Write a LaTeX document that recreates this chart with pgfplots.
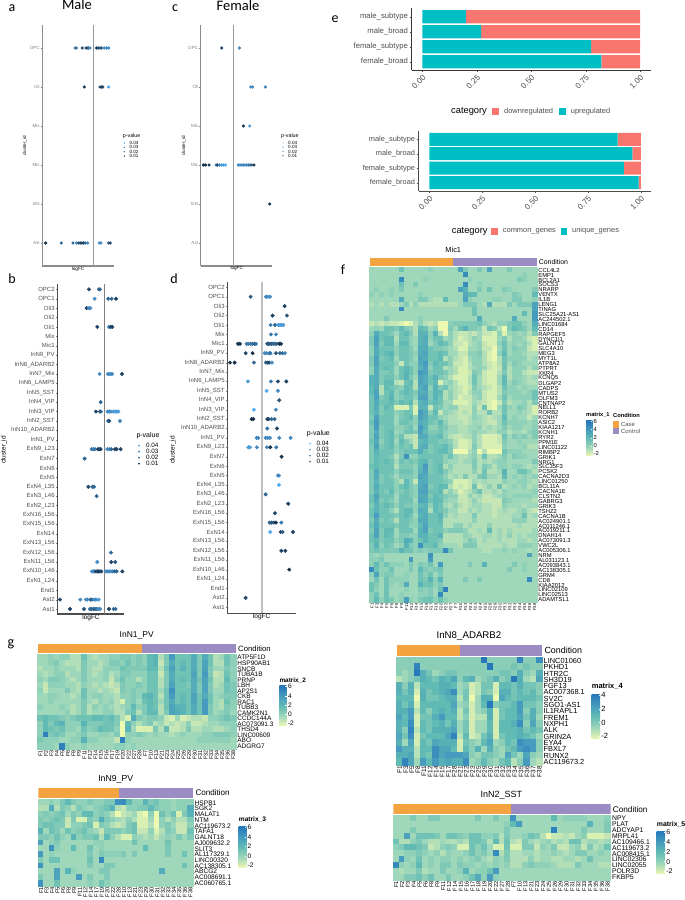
\documentclass[border=0pt]{standalone}
\usepackage{fontspec}
\setmainfont{Liberation Sans}
\newfontfamily\cali{Carlito}
\usepackage{pgfplots}
\usepackage{pgfplotstable}
\pgfplotsset{compat=1.18}

% one unit = one pixel of the 685x900 figure
\newcommand{\fs}[1]{\fontsize{#1pt}{#1pt}\selectfont}
\newcommand{\lab}[4][]{\node[inner sep=0pt,#1] at ({#2pt},{(900-#3)*1pt}) {#4};}
\newcommand{\swatch}[5]{\fill[#5] ({#1pt},{(900-#2)*1pt}) rectangle ({#3pt},{(900-#4)*1pt});}

\definecolor{tickg}{HTML}{4D4D4D}
\definecolor{spa}{HTML}{8C8C8C}
\definecolor{zeroa}{HTML}{9A9A9A}
\definecolor{upc}{HTML}{00BFC4}
\definecolor{downc}{HTML}{F8766D}
\definecolor{casec}{RGB}{243,163,63}
\definecolor{ctrlc}{RGB}{155,140,195}
\definecolor{h0}{RGB}{237,248,177}
\definecolor{h1}{RGB}{158,215,186}
\definecolor{h2}{RGB}{97,187,180}
\definecolor{h3}{RGB}{70,155,190}
\definecolor{h4}{RGB}{38,120,187}
\pgfdeclareverticalshading{heatv}{100bp}{color(0bp)=(h0); color(25bp)=(h0); color(37.5bp)=(h1); color(50bp)=(h2); color(62.5bp)=(h3); color(75bp)=(h4); color(100bp)=(h4)}

\pgfplotsset{
  colormap={pval}{rgb255=(19,43,67) rgb255=(86,177,247)},
  colormap={heat}{rgb255=(237,248,177) rgb255=(158,215,186) rgb255=(97,187,180) rgb255=(70,155,190) rgb255=(38,120,187)},
  pts/.style={scatter,only marks,mark=*,point meta=explicit,
    scatter/use mapped color={draw=mapped color,fill=mapped color}},
  cell/.style={scatter,only marks,mark=square*,point meta=explicit,
    mark options={line width=0pt},
    scatter/use mapped color={draw=mapped color,fill=mapped color}},
  dotax/.style={scale only axis,anchor=south west,axis x line*=bottom,axis y line*=left,
    xtick=\empty,tick align=outside,major tick length=1.5pt,
    tick style={draw=gray},axis line style={-,draw=#1,line width=1.1pt},
    yticklabel style={text=tickg,inner sep=1pt},
    colormap name=pval,point meta min=.003,point meta max=.042},
  barax/.style={scale only axis,anchor=south west,axis x line*=bottom,axis y line*=left,
    xbar stacked,y dir=reverse,ytick={0,1,2,3},
    yticklabels={male\_subtype,male\_broad,female\_subtype,female\_broad},
    xtick={0,.25,.5,.75,1},xticklabels={0.00,0.25,0.50,0.75,1.00},
    tick align=outside,major tick length=2pt,tick style={draw=tickg},
    axis line style={-,draw=#1,line width=.9pt},
    yticklabel style={text=tickg,inner sep=1.5pt},
    xticklabel style={text=tickg,rotate=45,anchor=north east,inner sep=1.5pt}},
  heatax/.style={scale only axis,anchor=south west,enlargelimits=false,y dir=reverse,
    axis line style={draw=none},tick style={draw=none},major tick length=0pt,
    yticklabel pos=right,yticklabel style={inner sep=1.2pt},
    xticklabel style={rotate=90,anchor=east,inner sep=1pt},
    colormap name=heat,point meta min=-4,point meta max=12},
}

% one column of cells per plot; cell values are in half units of the colour scale
\newcommand{\heat}[3]{\pgfplotsinvokeforeach{0,...,#2}{%
  \addplot[cell,mark size=#3pt] table[x expr=##1,y expr=\coordindex,meta index=##1]{#1};}}

% left, bottom, width, height, case columns, control columns, total
\newcommand{\annot}[7]{%
\begin{axis}[scale only axis,anchor=south west,at={(#1pt,#2pt)},width=#3pt,height=#4pt,
  hide axis,xbar stacked,bar width=#4pt,xmin=0,xmax=#7,ymin=-.5,ymax=.5]
\addplot[fill=casec,draw=none] coordinates {(#5,0)};
\addplot[fill=ctrlc,draw=none] coordinates {(#6,0)};
\end{axis}}

% left, bottom, width, height, ymin, ymax, font size, ticks
\newcommand{\cbar}[8]{%
\begin{axis}[scale only axis,anchor=south west,at={(#1pt,#2pt)},width=#3pt,height=#4pt,
  xmin=0,xmax=1,ymin=#5,ymax=#6,xtick=\empty,ytick={#8},axis on top,
  axis line style={draw=none},tick style={draw=white,line width=.4pt},major tick length=1.2pt,
  ytick pos=right,tick align=inside,yticklabel pos=right,
  yticklabel style={font=\fs{#7},inner sep=1.2pt,/pgf/number format/assume math mode=true}]
\shade[shading=heatv] (axis cs:0,#5) rectangle (axis cs:1,#6);
\end{axis}}

% left, bottom, width, height, font size, mark size, opacity
\newcommand{\pleg}[7]{%
\begin{axis}[scale only axis,anchor=south west,at={(#1pt,#2pt)},width=#3pt,height=#4pt,
  hide x axis,axis y line*=right,axis line style={draw=none},tick style={draw=none},
  major tick length=0pt,xmin=-1,xmax=1,ymin=-.5,ymax=3.5,ytick={0,1,2,3},
  yticklabels={0.01,0.02,0.03,0.04},yticklabel style={font=\fs{#5},inner sep=.5pt},
  colormap name=pval,point meta min=.003,point meta max=.042]
\addplot[pts,mark size=#6pt,opacity=#7] coordinates {(0,0) [.01] (0,1) [.02] (0,2) [.03] (0,3) [.04]};
\end{axis}}

\pgfplotstableread{
x y p
-55 5 .03
-51 5 .02
-33 5 .01
-22 5 .01
-18 5 .01
-14 5 .02
-10 5 .03
10 5 .01
15 5 .01
20 5 .01
25 5 .02
33 5 .03
40 5 .03
46 5 .03
-27 4 .005
20 4 .01
24 4 .01
28 4 .01
46 4 .04
-143 0 .005
-96 0 .02
-61 0 .02
-50 0 .03
-44 0 .02
-39 0 .01
-34 0 .01
-29 0 .01
-24 0 .02
-17 0 .03
18 0 .03
23 0 .03
46 0 .02
51 0 .01
}\tabA

\pgfplotstableread{
x y p
-35 5 .01
18 5 .03
52 4 .03
57 4 .03
96 4 .03
30 3 .01
49 3 .035
-90 2 .005
-84 2 .005
-73 2 .005
-52 2 .03
-48 2 .01
-42 2 .03
-36 2 .035
-30 2 .035
-24 2 .04
15 2 .03
20 2 .03
25 2 .03
30 2 .03
35 2 .03
40 2 .03
45 2 .03
50 2 .02
55 2 .02
62 2 .005
109 1 .005
}\tabC

\pgfplotstableread{
x y p
-47 34 .01
-17 34 .015
-14 34 .02
-30 33 .03
11 33 .02
21 33 .02
34 33 .01
-54 32 .01
-47 32 .03
-43 32 .03
-22 30 .01
13 30 .03
18 30 .01
23 30 .01
-15 25 .03
10 25 .03
16 25 .03
22 25 .03
52 25 .01
-12 22 .02
-26 21 .01
-14 21 .01
-11 21 .02
9 21 .03
14 21 .03
19 21 .03
26 21 .035
31 21 .035
36 21 .035
41 21 .035
11 20 .015
14 20 .015
46 20 .03
-39 17 .025
-34 17 .025
-29 17 .025
-20 17 .01
-16 17 .01
-12 17 .01
8 17 .03
14 17 .03
20 17 .02
31 17 .01
36 17 .01
48 17 .01
-60 16 .02
-49 13 .01
-37 13 .02
-32 13 .02
-24 12 .02
19 6 .02
-22 5 .03
20 5 .01
32 5 .015
-38 4 .03
-34 4 .03
-30 4 .03
-26 4 .01
-22 4 .01
-18 4 .01
-14 4 .01
-10 4 .01
4 4 .03
9 4 .03
14 4 .03
19 4 .03
24 4 .03
30 4 .02
36 4 .02
53 4 .01
-134 1 .01
-73 1 .03
-56 1 .03
-52 1 .03
-42 1 .02
-38 1 .02
-31 1 .03
-26 1 .03
-18 1 .035
-104 0 .01
-62 0 .015
-44 0 .02
-39 0 .02
-34 0 .02
-29 0 .02
-24 0 .02
-19 0 .03
-14 0 .03
13 0 .01
27 0 .02
33 0 .02
}\tabB

\pgfplotstableread{
x y p
-34 33 .015
12 33 .03
17 33 .03
24 33 .03
68 32 .01
32 31 .01
75 31 .015
26 30 .025
39 30 .02
49 30 .035
54 30 .035
59 30 .035
64 30 .035
27 29 .025
42 29 .03
-72 28 .005
-66 28 .005
-46 28 .025
-41 28 .025
-34 28 .025
-29 28 .025
-22 28 .01
-18 28 .025
16 28 .015
20 28 .015
24 28 .015
29 28 .015
34 28 .02
39 28 .02
44 28 .02
52 28 .005
57 28 .005
-49 27 .01
-28 27 .005
8 27 .03
14 27 .03
22 27 .025
26 27 .025
42 27 .015
54 27 .02
62 27 .02
69 27 .03
-96 26 .005
-82 26 .005
-24 26 .02
12 26 .015
17 26 .015
22 26 .01
30 26 .03
-42 24 .035
27 24 .025
48 24 .01
73 24 .01
14 23 .04
48 23 .03
52 22 .015
-24 21 .04
42 21 .03
-31 20 .005
-26 20 .005
16 20 .01
20 20 .01
29 20 .02
38 20 .02
16 19 .025
45 19 .01
-16 18 .03
-11 18 .03
11 18 .03
17 18 .03
24 18 .03
52 18 .03
86 18 .03
-41 17 .035
-36 17 .035
-15 17 .03
15 17 .03
25 17 .005
43 17 .025
59 16 .005
48 14 .03
51 14 .03
51 13 .04
11 12 .02
79 11 .01
39 10 .01
23 9 .02
29 9 .015
36 9 .015
42 9 .005
58 9 .025
25 8 .04
56 8 .01
62 8 .015
93 8 .01
58 6 .01
70 6 .01
82 4 .005
-49 1 .01
}\tabD

\pgfplotstableread[header=false]{
0 0 0 0 0 0 3 0 0 0 0 0 1 0 0 0 0  0 7 2 0 0 2 0 7 0 0 0 2 0 0 0 0 0
0 0 0 0 0 0 0 0 0 0 0 0 0 0 0 0 0  0 0 10 0 0 0 0 0 0 0 0 0 0 0 1 0 0
0 0 0 0 0 0 10 0 0 0 0 1 0 0 0 0 0  0 0 0 1 0 0 0 0 0 0 0 0 0 2 1 0 0
0 0 0 0 0 0 3 0 0 2 0 0 0 0 0 0 0  0 0 10 0 0 1 0 0 0 0 0 0 0 0 0 0 0
0 1 0 0 1 0 2 0 0 0 0 0 0 0 0 0 0  0 7 5 0 0 2 0 3 0 0 2 1 0 0 0 0 2
1 0 1 0 1 0 0 0 0 0 1 0 0 0 0 0 0  0 0 6 4 4 0 0 0 0 0 0 0 2 1 0 0 4
0 0 0 0 0 0 6 0 0 0 2 2 0 -1 -1 4 0  0 0 7 1 0 0 0 0 1 1 0 0 2 2 0 0 1
-1 0 -1 0 -1 -1 0 2 -1 1 -1 -1 -1 -1 -1 -1 -1  -1 0 2 2 2 0 -1 6 -1 -1 -1 2 0 2 2 2 7
0 0 0 0 0 0 10 0 0 0 0 0 0 0 0 0 0  0 0 0 0 3 0 0 0 0 0 0 0 0 0 0 0 7
0 0 0 0 0 0 0 0 0 0 0 0 0 0 0 0 0  0 0 0 0 3 0 0 0 0 0 0 0 0 0 4 0 8
0 0 0 2 0 0 0 0 0 0 1 0 0 0 0 0 0  0 0 0 0 0 6 0 0 0 0 0 0 6 0 0 0 8
-2 -1 -2 -1 -2 -2 -3 -4 -3 -1 1 -1 -2 -1 -4 -4 1  2 2 2 2 2 3 1 0 -1 1 1 2 3 3 1 0 6
0 1 0 3 3 2 4 2 1 -1 4 3 0 1 -4 -4 2  0 3 5 2 2 1 -2 3 2 -1 -4 2 4 3 2 0 4
1 6 3 3 2 0 3 4 2 -1 5 5 1 5 -1 -4 1  -1 -2 -2 -1 -2 0 -2 -2 -3 1 -3 0 1 0 1 -1 2
2 7 3 4 4 -1 3 3 1 0 5 6 1 3 3 0 1  -1 -3 -2 -1 1 0 -3 -3 -3 0 2 -1 1 1 0 -2 -3
2 7 2 4 4 0 4 4 1 0 5 6 0 2 4 3 1  -2 -2 -3 -1 0 1 -2 -3 -3 1 3 0 1 0 1 -1 -3
1 6 3 3 3 1 3 3 2 0 6 6 3 2 2 1 0  -1 -3 -3 0 0 1 -2 -2 -4 0 3 0 2 1 1 -2 -3
1 6 3 4 5 1 3 3 2 1 6 7 3 3 4 3 0  0 -2 -2 1 1 2 -1 -3 -4 1 4 0 1 1 0 -1 -1
2 7 2 3 4 0 3 3 2 0 7 6 3 3 4 -1 1  -1 -2 -3 0 1 1 -1 -3 -4 -1 3 1 1 1 1 -1 0
2 7 3 3 3 1 -2 3 1 1 6 8 2 4 3 3 1  -2 -2 -3 -1 1 1 -1 -2 -3 -1 3 0 2 1 0 0 0
1 6 3 4 3 0 3 4 3 1 5 7 1 3 3 -1 0  -1 -3 -3 -1 0 1 0 -2 -3 -2 3 -1 1 1 1 -1 1
1 6 2 2 3 0 3 5 3 1 8 7 2 3 3 2 0  -1 -3 -3 -2 2 1 -2 -3 -3 -1 2 -1 1 1 -1 -2 -2
5 6 2 3 3 1 3 5 2 0 7 6 3 5 2 1 -1  -3 -3 -3 -1 3 0 -2 -3 -3 0 4 -1 1 1 0 -1 0
5 6 2 4 4 -1 -2 3 4 -1 7 6 3 4 -3 0 1  -1 -3 -3 -1 3 0 -2 -3 -3 0 4 0 2 1 0 -1 -1
4 6 -1 4 3 2 1 4 3 -1 6 7 1 5 2 3 0  -1 -2 -3 -2 2 0 -1 -2 -3 -1 3 1 1 0 1 0 0
4 7 -1 3 4 1 3 4 3 2 6 6 2 5 4 -1 1  -1 -2 -3 -1 1 1 -2 -3 -3 -1 2 1 1 1 0 1 3
3 7 2 3 5 1 2 3 3 1 7 7 2 5 3 -1 1  -1 -3 -2 -2 0 1 -2 -3 -3 0 3 0 1 1 1 1 3
3 6 3 3 4 2 4 3 4 -1 5 6 3 4 3 0 0  -3 -3 -3 -2 0 -1 -2 -3 -4 -2 2 -1 0 0 1 -1 2
3 6 2 4 3 -3 -3 -3 2 -3 5 5 -2 3 2 0 1  1 -2 -2 -2 1 -2 3 -3 -4 0 3 1 0 2 1 -1 -3
3 5 2 3 3 1 2 3 3 -3 8 6 1 4 -2 1 0  -1 -2 -1 -2 1 -1 -1 3 -1 -1 3 0 0 1 0 -1 -3
2 7 3 3 3 0 2 3 4 1 7 6 3 3 1 0 -1  -1 -2 -2 -1 1 0 -1 -2 -1 0 4 0 1 0 0 -2 0
3 8 3 3 3 0 3 3 2 1 6 5 3 2 4 1 -1  -1 -1 -2 -1 0 0 -1 -2 -2 0 3 1 1 1 1 0 1
2 8 2 3 3 1 1 2 3 0 8 5 1 1 3 2 0  0 -1 -1 0 0 1 -1 0 -1 0 2 0 1 1 0 0 1
2 6 2 3 4 0 1 3 3 2 7 4 2 2 3 1 0  0 -1 -1 0 1 0 0 -1 -1 1 1 -1 0 0 -1 1 2
2 7 2 3 4 1 3 -1 -1 -2 6 6 3 3 4 1 -1  -2 -2 -1 -1 1 -1 -3 -3 -3 -2 3 0 2 1 2 0 2
3 6 1 3 4 0 4 2 0 -2 4 5 3 3 2 2 1  -1 -3 -3 -2 1 -1 -3 -3 -3 -2 2 0 0 1 0 0 0
2 7 2 3 4 1 3 2 3 -2 5 6 2 3 3 4 2  -1 -3 -3 -2 2 -1 -3 -3 -3 -3 1 0 0 0 1 -1 -1
2 5 3 3 3 1 2 3 3 3 6 3 2 3 4 4 2  -4 -4 -4 -1 1 -4 -1 -4 -4 -4 3 1 1 1 0 0 0
2 4 3 3 2 -1 2 9 1 1 3 3 3 3 3 1 3  0 -1 -1 0 1 -1 3 -1 -1 0 2 0 2 1 1 0 0
2 4 3 4 3 0 3 2 3 2 4 5 2 3 3 1 0  0 -1 0 0 2 -1 0 -1 0 1 1 0 0 0 0 0 2
3 4 3 3 3 -1 2 2 2 1 4 8 2 3 4 -1 1  -1 -1 -1 -1 2 -1 2 1 -1 1 1 0 1 1 0 -1 0
2 6 3 3 3 1 3 3 3 1 5 7 2 3 4 2 0  -1 -1 -1 -1 1 -1 3 -1 -1 0 5 0 0 3 3 1 -1
2 6 2 3 2 0 2 2 2 1 7 6 3 3 3 1 -1  0 -1 2 -1 -1 2 3 0 0 -1 4 0 1 0 1 0 1
2 5 2 3 3 1 -1 4 2 -2 6 6 3 3 3 2 1  -3 -3 -3 -2 0 -1 0 -1 -1 -1 1 0 0 1 1 0 -1
2 6 3 3 3 1 3 4 2 1 6 7 2 3 4 4 -1  -3 -2 -3 -2 3 -2 -1 1 -1 3 -1 0 1 0 1 -1 0
2 5 3 2 4 1 2 3 2 1 7 7 3 3 4 -1 1  -1 -3 -2 -1 1 3 -1 -1 0 -1 1 0 0 0 0 0 1
3 7 3 3 3 0 3 3 2 1 6 6 2 4 3 2 1  1 -2 -2 1 -1 0 -2 -2 -1 0 1 0 1 1 1 1 0
3 6 2 3 2 0 3 3 3 0 7 6 3 4 4 1 0  0 -2 -2 -1 1 -1 -2 -2 -2 -2 2 1 0 0 0 0 -1
2 5 3 4 3 1 3 2 2 1 4 5 1 4 3 0 -1  1 -1 -2 -1 0 0 -1 -1 -2 -2 1 0 0 0 -1 0 0
3 5 3 3 1 -1 3 4 4 1 6 5 -1 4 3 2 0  0 -2 -2 0 -1 0 -1 -1 -2 -1 0 -1 -1 0 1 -1 -2
3 8 3 3 3 2 3 4 3 0 5 6 3 3 5 1 -1  0 -1 -1 -1 2 -1 -1 -1 -2 -1 -1 -1 0 0 3 -1 0
2 6 2 3 2 -1 3 3 2 1 6 6 3 3 4 -1 -1  -1 -1 -1 -1 1 -1 -1 -1 -1 -1 -1 -1 1 1 1 -1 -1
3 6 3 3 3 2 3 3 1 1 4 7 3 3 3 -1 -1  1 1 -1 0 -1 -1 -1 1 -1 -1 -1 -1 -1 0 -1 -1 -1
2 7 2 4 4 0 3 3 3 0 5 7 2 3 3 1 2  2 2 1 -1 -1 0 -1 4 -1 0 -1 0 -1 -1 -1 -1 0
3 7 2 4 3 0 2 2 1 1 5 5 3 3 5 -1 -1  -1 -1 1 0 -1 -1 0 0 -1 0 -1 1 -1 0 -1 0 0
3 4 2 3 3 1 2 6 5 1 3 5 3 3 2 -1 -1  -1 -1 0 2 1 -1 0 -1 -1 0 -1 -1 -1 0 0 -1 0
2 5 1 3 2 0 1 5 2 1 9 3 3 4 1 0 0  0 -1 2 2 2 -1 -1 -1 -1 -1 0 -1 -1 1 1 1 0
2 3 2 2 2 2 5 3 3 1 2 1 2 2 2 10 3  0 0 0 0 0 0 -1 -1 0 0 1 0 1 0 0 -1 0
1 0 1 0 0 0 0 0 0 0 0 0 9 0 0 0 0  0 0 0 0 0 0 0 0 0 0 0 0 0 0 0 7 0
1 1 2 0 0 0 0 0 8 0 0 0 8 0 0 0 0  0 0 0 0 0 0 0 0 0 0 0 0 0 0 0 0 0
1 4 1 3 1 1 1 0 2 0 2 1 3 0 8 0 0  0 0 0 2 0 0 5 0 0 0 0 0 2 0 1 0 0
10 3 1 1 3 0 0 0 2 0 4 2 1 2 3 0 0  0 0 0 0 0 0 0 0 0 0 0 2 0 0 1 0 0
1 7 1 2 2 0 0 1 0 0 3 1 3 0 2 0 0  0 0 0 0 0 0 0 0 0 0 0 0 0 0 0 0 0
0 3 0 3 1 1 1 1 0 0 3 2 5 1 5 0 0  0 0 2 0 0 2 0 0 0 0 0 0 0 0 0 10 0
3 2 0 3 1 0 1 6 0 0 5 3 3 1 2 0 0  0 0 0 0 0 0 0 0 0 0 0 0 0 0 0 0 0
3 1 0 3 0 0 0 1 0 0 2 1 2 0 3 11 0  0 0 0 0 0 0 0 0 0 0 0 0 0 0 0 0 0
1 3 0 3 0 0 1 0 0 0 1 1 2 0 10 0 0  0 0 0 0 0 0 0 0 0 0 0 0 0 0 0 0 0
1 4 1 3 2 0 1 8 1 0 2 3 3 1 3 1 0  0 0 0 0 0 0 0 0 0 0 0 0 0 0 0 0 0
}\tabMic

\pgfplotstableread[header=false]{
0 0 1 0 1 1 -1 -1 3 0 -1 0 0 1 1 2 2 1 2  1 4 5 -1 2 8 3 3 3 6 2 6 3 -1 0 3 1
0 0 1 2 0 -1 -1 -1 2 0 0 -1 0 2 2 1 3 1 2  1 4 5 -2 2 6 3 4 3 6 2 7 3 -1 -1 3 1
-1 0 0 1 0 0 0 -1 2 0 -1 -1 1 1 1 3 2 2 2  2 4 4 -1 3 7 3 5 3 6 2 7 2 0 0 2 1
0 -1 0 1 1 -1 0 0 2 0 -1 0 1 -1 0 2 2 1 1  1 3 3 -2 2 6 3 3 3 7 2 8 2 -2 -1 3 1
1 0 2 2 1 0 -1 0 2 0 0 0 1 -2 1 3 1 1 -1  1 3 3 -1 2 6 3 4 3 6 3 7 3 -1 -1 4 1
0 -2 1 1 1 0 0 -1 1 0 -1 0 -1 -2 -1 2 1 1 2  1 3 3 -1 2 7 3 3 2 6 2 7 2 -1 0 3 2
1 -2 0 0 0 2 0 -1 3 0 0 -1 0 -1 -2 2 1 2 1  1 3 3 0 3 9 3 3 3 6 2 7 2 0 0 3 2
0 0 1 1 0 0 -1 0 3 0 1 1 0 0 -1 1 1 2 1  4 5 3 -1 3 8 3 4 3 7 3 6 3 0 1 2 2
0 0 1 0 0 0 0 0 2 0 -1 1 0 1 -1 -3 1 2 0  3 4 3 0 3 6 3 4 3 7 3 8 3 0 -1 3 1
1 0 0 0 1 0 -1 0 2 -1 1 0 1 0 -1 0 1 4 1  2 4 3 -1 3 7 5 5 3 6 3 8 2 0 -1 2 1
0 0 0 0 0 1 -1 0 2 -1 0 0 1 1 -1 -1 2 3 -1  2 4 4 -1 2 7 6 5 3 6 3 8 2 0 1 2 0
3 4 3 3 2 1 2 3 3 3 4 4 3 4 2 -1 -3 6 2  1 2 2 1 -2 -3 0 -3 -2 -1 -1 -2 1 1 2 3 2
1 4 2 4 5 1 1 1 5 2 2 2 3 3 2 -4 4 1 -1  1 2 -1 0 -2 -1 -2 -1 1 -2 -2 -1 0 0 1 1 1
1 4 3 2 3 1 1 0 3 1 2 4 3 3 1 -4 5 0 -3  -3 -3 2 -1 4 -2 -2 -1 2 -1 -1 0 0 -1 -1 0 1
1 11 2 3 2 0 0 1 2 0 0 1 1 0 2 -4 1 1 2  1 0 1 0 0 -1 0 1 0 0 0 1 1 2 2 2 1
2 1 1 1 0 0 1 1 5 1 1 0 0 0 -2 11 1 0 0  0 0 0 0 0 0 0 0 0 0 1 1 1 1 1 1 0
1 1 1 0 11 1 0 0 1 0 0 0 0 0 1 1 0 1 0  0 0 0 0 0 0 0 0 0 0 0 0 0 0 0 0 0
}\tabInOne

\pgfplotstableread[header=false]{
0 0 1 0 2 4 2 1 1 2 1 1 2 2 9  10 4 1 1 5 2 3 1 1 0 1 1 1
-1 -1 6 -1 2 1 -1 2 1 0 1 2 3 5 -1  -2 1 1 2 2 4 2 1 1 0 1 1 6
1 2 1 2 3 0 2 1 4 4 1 2 1 -1 -4  -2 -1 0 -3 -4 1 -4 3 1 3 -3 2 5
2 1 2 3 2 -2 2 -3 -3 2 1 6 2 1 0  -1 1 -1 -3 -3 0 -4 1 -1 1 -1 -1 2
2 3 3 2 2 -2 1 1 2 3 -3 2 1 -1 -2  -1 2 3 -3 -3 -1 -4 1 2 0 -2 -2 1
5 0 3 2 0 3 1 2 3 1 0 -2 2 2 2  1 2 3 -2 -2 1 -3 -1 2 1 -2 -2 3
2 2 1 3 1 0 5 1 2 2 3 -1 4 1 -1  -3 -3 1 0 -1 0 -2 0 1 0 2 0 2
7 0 1 2 0 0 0 0 0 0 1 1 0 0 0  0 0 3 0 0 0 0 0 3 0 0 0 0
0 0 9 1 0 0 4 0 0 3 0 1 0 0 0  0 0 0 0 4 0 0 0 2 0 0 0 0
8 0 1 0 0 0 0 0 0 2 0 2 1 1 1  2 0 2 0 0 0 0 0 2 0 0 3 0
2 0 3 3 0 0 0 0 0 3 0 10 0 0 0  0 0 0 0 0 0 0 0 0 0 0 0 0
9 0 0 0 0 0 0 0 0 2 0 0 2 2 0  0 0 0 0 0 0 0 0 0 0 0 3 0
0 0 0 7 0 5 1 0 0 0 0 2 2 0 0  0 0 0 0 0 0 0 6 0 0 0 0 0
2 0 0 7 0 0 0 8 0 2 0 0 2 0 0  0 0 0 0 0 0 0 0 0 0 0 0 0
9 0 0 3 0 0 0 0 0 1 0 3 1 0 0  0 0 0 0 0 0 0 0 0 0 0 0 0
}\tabInNine

\pgfplotstableread[header=false]{
0 0 0 0 0 0 0 0 0 0  0 0 0 0 8 0 0 0 0 0 7 0 0 6
0 0 0 7 0 0 0 0 0 0  0 0 0 0 0 10 0 0 0 1 0 1 0 0
0 -1 0 9 3 1 -1 0 1 1  0 0 0 0 0 0 0 1 1 0 3 0 -1 3
-2 -1 0 1 3 2 1 3 2 4  0 2 3 -1 0 1 3 0 1 8 3 -1 -2 4
3 0 3 -2 2 2 2 3 3 2  -1 0 -3 -2 1 1 -3 2 2 1 3 1 1 0
3 1 3 -3 3 1 2 3 4 6  -1 1 -3 -2 1 0 -3 3 3 1 2 1 2 0
2 2 2 -4 3 1 1 2 3 3  -2 1 -4 -1 3 3 -4 4 2 1 2 2 2 1
3 1 3 -3 2 2 2 2 2 4  -1 0 -3 -1 2 8 0 1 1 2 5 1 1 0
3 3 5 -2 2 0 2 3 2 3  -2 1 -3 -1 0 3 -3 1 2 2 5 0 3 0
4 2 5 -3 1 1 3 5 2 2  -2 0 -3 -2 -2 3 -3 1 2 2 4 1 3 -1
3 2 6 -3 2 1 2 3 1 3  -1 1 -3 -1 -1 2 -3 2 2 3 6 0 4 0
3 0 7 -2 2 1 3 3 3 4  -1 1 -3 -1 -1 2 -3 2 2 2 3 1 2 1
4 1 6 -3 1 2 2 2 4 7  -2 2 -3 -2 1 3 -3 1 2 2 3 2 1 -1
3 -1 4 -3 2 1 4 3 3 3  -3 1 0 -1 2 4 -1 0 2 1 6 5 5 0
5 3 3 -2 2 2 6 4 4 2  -3 2 0 3 -1 3 0 -1 1 2 5 6 5 0
3 3 4 -2 2 1 6 4 5 5  5 4 0 -1 1 1 0 -1 4 1 -1 4 0 -1
2 7 4 -1 5 2 5 3 4 3  3 6 -1 0 2 0 -1 1 2 -2 0 5 -1 -2
}\tabInEight

\pgfplotstableread[header=false]{
0 0 0 2 0 0 2 2 0 0 0 0 0 0 2 0 0 2 0 0  9 0 0 0 0 0 0 4 0 1 1 1 1 0 0 0 1
0 0 0 0 0 0 0 0 0 0 0 0 0 0 0 0 0 0 0 1  4 8 0 0 0 0 0 0 0 0 0 0 0 5 0 0 2
0 0 0 2 0 0 0 0 0 0 0 0 0 0 0 0 0 0 0 2  0 0 0 0 0 0 0 11 0 0 0 0 2 0 0 0 2
0 0 7 0 3 3 3 2 0 3 3 2 1 3 3 1 1 2 -1 2  0 0 1 3 2 -1 -4 -2 -2 -1 -2 0 1 -3 -3 -3 -2
3 -1 -1 1 2 0 -1 -1 0 -1 -1 0 -1 3 3 2 -1 4 -1 3  -1 -2 2 0 -1 0 1 -1 0 -1 3 3 -1 0 0 -1 0
1 2 4 4 3 2 -2 -1 1 2 1 -3 -3 3 1 3 0 -3 -3 3  -3 -3 2 2 -2 1 0 2 -2 -2 0 1 -2 2 -1 0 3
0 0 1 1 2 1 0 1 -1 1 0 0 1 3 1 2 0 10 -1 2  -1 -1 0 0 -1 0 0 1 0 -1 0 2 2 0 0 1 0
0 8 1 0 3 0 1 0 1 1 0 1 0 1 2 0 -1 1 0 2  -1 -1 -1 1 -1 0 0 -1 -1 0 0 -1 0 3 0 0 0
10 1 0 1 4 0 1 0 2 2 0 2 1 1 0 1 0 1 0 1  -1 -1 1 2 1 1 1 0 -1 -1 -1 2 0 0 0 -1 -1
0 -1 0 0 2 -1 0 0 2 0 0 1 5 0 1 1 3 8 0 0  0 0 0 0 0 0 0 0 0 0 0 0 0 0 0 0 0
0 0 2 2 3 1 3 0 0 2 0 0 1 3 6 1 8 1 0 0  0 0 0 0 0 0 0 0 0 0 0 0 0 0 0 0 0
}\tabInTwo

\begin{document}
\begin{tikzpicture}
\path[use as bounding box] (0pt,0pt) rectangle (685pt,900pt);

% a, male broad types
\begin{axis}[dotax=spa,at={(42.3pt,634pt)},width=71.3pt,height=241pt,
  xmin=-153,xmax=61,ymin=-.59,ymax=5.59,ytick={0,...,5},
  yticklabels={Ast,InN,Mic,Mix,Oli,OPC},yticklabel style={font=\fs{4.5},text=gray}]
\addplot[zeroa,line width=.9pt] coordinates {(0,-.59) (0,5.59)};
\addplot[pts,mark size=1.4pt] table[x=x,y=y,meta=p] {\tabA};
\end{axis}
% c, female broad types
\begin{axis}[dotax=spa,at={(200.7pt,634pt)},width=71pt,height=241pt,
  xmin=-98,xmax=115,ymin=-.59,ymax=5.59,ytick={0,...,5},
  yticklabels={Ast,InN,Mic,Mix,Oli,OPC},yticklabel style={font=\fs{4.5},text=gray}]
\addplot[zeroa,line width=.9pt] coordinates {(0,-.59) (0,5.59)};
\addplot[pts,mark size=1.4pt] table[x=x,y=y,meta=p] {\tabC};
\end{axis}
% b, male subtypes
\begin{axis}[dotax=tickg,at={(57.3pt,286pt)},width=67pt,height=330pt,
  xmin=-142,xmax=59,ymin=-.53,ymax=34.57,ytick={0,...,34},
  yticklabels={Ast1,Ast2,End1,ExN1\_L24,ExN10\_L46,ExN11\_L56,ExN12\_L56,ExN13\_L56,ExN14,ExN15\_L56,ExN16\_L56,ExN2\_L23,ExN3\_L46,ExN4\_L35,ExN5,ExN6,ExN7,ExN9\_L23,InN1\_PV,InN10\_ADARB2,InN2\_SST,InN3\_VIP,InN4\_VIP,InN5\_SST,InN6\_LAMP5,InN7\_Mix,InN8\_ADARB2,InN9\_PV,Mic1,Mix,Oli1,Oli2,Oli3,OPC1,OPC2},
  yticklabel style={font=\fs{6}}]
\addplot[gray,line width=1pt] coordinates {(0,-.53) (0,34.57)};
\addplot[pts,mark size=1.8pt] table[x=x,y=y,meta=p] {\tabB};
\end{axis}
% d, female subtypes
\begin{axis}[dotax=tickg,at={(227.3pt,286.7pt)},width=68.3pt,height=331.6pt,
  xmin=-104,xmax=101,ymin=-.64,ymax=34.6,ytick={0,...,34},
  yticklabels={Ast1,Ast2,End1,ExN1\_L24,ExN10\_L46,ExN11\_L56,ExN12\_L56,ExN13\_L56,ExN14,ExN15\_L56,ExN16\_L56,ExN2\_L23,ExN3\_L46,ExN4\_L35,ExN5,ExN6,ExN7,ExN9\_L23,InN1\_PV,InN10\_ADARB2,InN2\_SST,InN3\_VIP,InN4\_VIP,InN5\_SST,InN6\_LAMP5,InN7\_Mix,InN8\_ADARB2,InN9\_PV,Mic1,Mix,Oli1,Oli2,Oli3,OPC1,OPC2},
  yticklabel style={font=\fs{6}}]
\addplot[black!25,line width=1.3pt] coordinates {(0,-.64) (0,34.6)};
\addplot[pts,mark size=1.8pt] table[x=x,y=y,meta=p] {\tabD};
\end{axis}

\pleg{119.8}{741.8}{9}{17.3}{4.6}{.45}{1}
\pleg{278.5}{742.2}{9}{16.9}{4.6}{.45}{.6}
\pleg{132.7}{433.3}{12.6}{24}{6.3}{.7}{1}
\pleg{304}{435.3}{12}{24}{6.3}{.7}{.6}

% e, stacked fractions
\begin{axis}[barax=tickg!70!black,at={(411.7pt,830pt)},width=239pt,height=62pt,bar width=13.3pt,
  xmin=-.0487,xmax=1.049,ymin=-.58,ymax=3.55,
  yticklabel style={font=\fs{7.7}},xticklabel style={font=\fs{8}}]
\addplot[fill=upc,draw=none] coordinates {(.2,0) (.27,1) (.775,2) (.822,3)};
\addplot[fill=downc,draw=none] coordinates {(.8,0) (.73,1) (.225,2) (.178,3)};
\end{axis}
\begin{axis}[barax=tickg,at={(418.7pt,709pt)},width=232pt,height=60.3pt,bar width=13pt,
  xmin=-.0501,xmax=1.047,ymin=-.595,ymax=3.58,
  yticklabel style={font=\fs{7.4}},xticklabel style={font=\fs{8}}]
\addplot[fill=upc,draw=none] coordinates {(.89,0) (.96,1) (.92,2) (.99,3)};
\addplot[fill=downc,draw=none] coordinates {(.11,0) (.04,1) (.08,2) (.01,3)};
\end{axis}

% f, Mic1
\annot{369.7}{634}{167.3}{8}{17}{17}{34}
\begin{axis}[heatax,at={(369.7pt,297.7pt)},width=167.3pt,height=334.6pt,
  xmin=-.5,xmax=33.5,ymin=-.5,ymax=67.5,
  xtick={0,...,33},ytick={0,...,67},
  xticklabels={F1,F3,F4,F5,F6,F8,F9,F11,F12,F14,F15,F16,F17,F19,F20,F22,F27,F7,F10,F13,F21,F23,F24,F25,F26,F29,F30,F31,F32,F33,F34,F35,F36,F38},
  yticklabels={CCL4L2,EMP1,BCL2A1,SOCS3,NRARP,VENTX,IL1B,LENG1,TINAG,SLC25A21-AS1,AC244502.1,LINC01684,CD14,RAPGEF5,DYNC1I1,GALNT17,SLC4A10,MEG3,MYT1L,ATP8A2,PTPRT,XKR4,KCNQ5,DLGAP2,CADPS,MTUS2,OLFM3,CNTNAP2,NELL1,RORB2,KCNH7,ASIC2,KIAA1217,KCNH1,RYR2,PPM1E,LINC01122,RIMBP2,GRIK1,NRG1,SLC35F3,PCSK2,CACNA2D3,LINC01250,BCL11A,CACNA1E,CLSTN2,GABRG3,GRIK3,TSHZ2,CACNA1B,AC024901.1,AC011246.1,AC019211.1,DNAH14,AC073091.3,VWC2L,AC005306.1,NRM,AL031123.1,AC093843.1,AC138305.1,GRM4,CD8,KIAA2012,LINC02109,LINC02513,ADAMTSL1},
  yticklabel style={font=\fs{5.8}},xticklabel style={font=\fs{4.3}}]
\heat{\tabMic}{33}{2.5}
\end{axis}

% g, InN1_PV
\annot{37.7}{246.7}{198.3}{9.3}{19}{17}{36}
\begin{axis}[heatax,at={(37.7pt,151pt)},width=198.3pt,height=94pt,
  xmin=-.5,xmax=35.5,ymin=-.5,ymax=16.5,xtick={0,...,35},ytick={0,...,16},
  xticklabels={F1,F2,F3,F4,F5,F6,F8,F9,F11,F12,F14,F15,F16,F17,F19,F20,F22,F27,F28,F7,F10,F13,F21,F23,F24,F25,F26,F29,F30,F31,F32,F33,F34,F35,F36,F38},
  yticklabels={ATP5F1D,HSP90AB1,SNCB,TUBA1B,PRNP,LBH,AP2S1,CKB,RAC1,TUBB3,CAMK2N1,CCDC144A,AC073091.3,THSD4,LINC00609,ABO,ADGRG7},
  yticklabel style={font=\fs{6.5}},xticklabel style={font=\fs{5.5}}]
\heat{\tabInOne}{35}{2.8}
\end{axis}

% g, InN9_PV
\annot{38.3}{102}{155}{9.7}{14.6}{13.4}{28}
\begin{axis}[heatax,at={(38.3pt,14pt)},width=155pt,height=86pt,
  xmin=-.5,xmax=27.5,ymin=-.5,ymax=14.5,xtick={0,...,27},ytick={0,...,14},
  xticklabels={F1,F3,F4,F5,F6,F8,F9,F11,F12,F14,F17,F19,F20,F22,F28,F10,F13,F21,F23,F29,F30,F31,F32,F33,F34,F35,F36,F38},
  yticklabels={HSPB1,SGK2,MALAT1,NTM,AC119673.2,TAFA1,GALNT18,AJ009632.2,SLIT3,AL117329.1,LINC00320,AC138305.1,ABCG2,AC008691.1,AC060765.1},
  yticklabel style={font=\fs{6.6}},xticklabel style={font=\fs{5.7}}]
\heat{\tabInNine}{27}{2.9}
\end{axis}

% g, InN8_ADARB2
\annot{396.7}{244.3}{145.6}{10.7}{10.4}{13.6}{24}
\begin{axis}[heatax,at={(396.7pt,135pt)},width=145.6pt,height=107.3pt,
  point meta max=8,
  xmin=-.5,xmax=23.5,ymin=-.5,ymax=16.5,xtick={0,...,23},ytick={0,...,16},
  xticklabels={F1,F3,F5,F8,F11,F12,F14,F15,F17,F28,F21,F22,F23,F25,F29,F30,F31,F32,F33,F34,F35,F36,F37,F38},
  yticklabels={LINC01060,PKHD1,HTR2C,SH3D19,FGF13,AC007368.1,SV2C,SGO1-AS1,IL1RAPL1,FREM1,NXPH1,ALK,GRIN2A,EYA4,FBXL7,RUNX2,AC119673.2},
  yticklabel style={font=\fs{7.4}},xticklabel style={font=\fs{6.5}}]
\heat{\tabInEight}{23}{3.2}
\end{axis}

% g, InN2_SST
\annot{393.3}{86.3}{217.4}{9.7}{20}{17}{37}
\begin{axis}[heatax,at={(393.3pt,20pt)},width=217.4pt,height=64.3pt,
  xmin=-.5,xmax=36.5,ymin=-.5,ymax=10.5,xtick={0,...,36},ytick={0,...,10},
  xticklabels={F1,F2,F3,F4,F5,F6,F8,F9,F11,F12,F14,F15,F16,F17,F18,F19,F20,F22,F27,F28,F7,F10,F13,F21,F23,F24,F25,F26,F29,F30,F31,F32,F33,F34,F35,F36,F38},
  yticklabels={NPY,PLAT,ADCYAP1,MRPL41,AC109466.1,AC119673.2,AC008415.1,LINC02306,LINC02055,POLR3D,FKBP5},
  yticklabel style={font=\fs{6.8}},xticklabel style={font=\fs{5.7}}]
\heat{\tabInTwo}{36}{3}
\end{axis}

% colour keys
\cbar{586}{444}{6.3}{35}{-2.5}{6.15}{5.8}{-2,0,2,4,6}
\cbar{279.3}{174}{7.3}{40}{-2.5}{6.15}{6.5}{-2,0,2,4,6}
\cbar{238.7}{32.3}{7.6}{41}{-2.5}{6.15}{6.6}{-2,0,2,4,6}
\cbar{591.7}{161}{8.3}{45}{-2.4}{4.2}{7.5}{-2,0,2,4}
\cbar{656.7}{26}{8.3}{42.7}{-2.5}{6.15}{6.9}{-2,0,2,4,6}

% panel letters and titles
\lab[font=\cali\fs{14}]{12}{8}{a}
\lab[font=\cali\fs{14}]{175}{8}{c}
\lab[font=\cali\fs{14}]{335}{19}{e}
\lab[font=\cali\fs{14}]{12}{279}{b}
\lab[font=\cali\fs{14}]{174}{279}{d}
\lab[font=\cali\fs{14}]{343}{270}{f}
\lab[font=\cali\fs{14}]{11}{644}{g}
\lab[font=\cali\fs{14.5}]{77}{5}{Male}
\lab[font=\cali\fs{14.5}]{238}{6}{Female}

% axis names of the dot panels
\lab[font=\fs{4.6},rotate=90]{25}{146}{cluster\_id}
\lab[font=\fs{4.6},rotate=90]{184}{146}{cluster\_id}
\lab[font=\fs{6.5},rotate=90]{4}{450}{cluster\_id}
\lab[font=\fs{6.5},rotate=90]{173}{450}{cluster\_id}
\lab[font=\fs{4.6}]{78}{269}{logFC}
\lab[font=\fs{4.6}]{236.7}{268}{logFC}
\lab[font=\fs{6.5}]{91}{618}{logFC}
\lab[font=\fs{6.5}]{261.7}{617}{logFC}
\lab[font=\fs{5.3},anchor=west]{122.7}{136}{p-value}
\lab[font=\fs{5.3},anchor=west]{281}{136}{p-value}
\lab[font=\fs{7},anchor=west]{136.3}{435.7}{p-value}
\lab[font=\fs{7},anchor=west]{306.7}{433.7}{p-value}

% legends of e
\lab[font=\fs{9.3},anchor=west]{451}{111.7}{category}
\swatch{492}{107.7}{499.3}{115}{downc}
\lab[font=\fs{7.45},anchor=west,text=tickg]{504}{111.7}{downregulated}
\swatch{559}{107.7}{566}{115}{upc}
\lab[font=\fs{7.45},anchor=west,text=tickg]{570.7}{111.7}{upregulated}
\lab[font=\fs{9.3},anchor=west]{451.7}{231}{category}
\swatch{491.3}{227.7}{498.3}{234.7}{downc}
\lab[font=\fs{7.45},anchor=west,text=tickg]{502.7}{231}{common\_genes}
\swatch{560.7}{227.7}{567.3}{234.7}{upc}
\lab[font=\fs{7.45},anchor=west,text=tickg]{572}{231}{unique\_genes}

% titles and annotation names of the heatmaps
\lab[font=\fs{7.4}]{453.3}{250.3}{Mic1}
\lab[font=\fs{6.9},anchor=west]{538.7}{262}{Condition}
\lab[font=\fs{8.5}]{136.7}{635.7}{InN1\_PV}
\lab[font=\fs{7.7},anchor=west]{238}{649}{Condition}
\lab[font=\fs{8.7}]{115.7}{779.7}{InN9\_PV}
\lab[font=\fs{8.1},anchor=west]{195.3}{793}{Condition}
\lab[font=\fs{9.7}]{469}{635.7}{InN8\_ADARB2}
\lab[font=\fs{8.9},anchor=west]{544.3}{650.7}{Condition}
\lab[font=\fs{9}]{501.3}{795}{InN2\_SST}
\lab[font=\fs{8.2},anchor=west]{612.7}{809.3}{Condition}

% heatmap legends
\lab[font=\bfseries\fs{5.7},anchor=west]{586}{415}{matrix\_1}
\lab[font=\bfseries\fs{5.7},anchor=west]{613}{415}{Condition}
\swatch{613}{421}{619.3}{427.7}{casec}
\swatch{613}{427.7}{619.3}{434.3}{ctrlc}
\lab[font=\fs{5.9},anchor=west,text=tickg]{621}{424.3}{Case}
\lab[font=\fs{5.9},anchor=west,text=tickg]{621}{431}{Control}
\lab[font=\bfseries\fs{6.4},anchor=west]{279.3}{680.3}{matrix\_2}
\lab[font=\bfseries\fs{6.6},anchor=west]{238.7}{820}{matrix\_3}
\lab[font=\bfseries\fs{7.5},anchor=west]{591.7}{686.7}{matrix\_4}
\lab[font=\bfseries\fs{6.9},anchor=west]{656.7}{824.7}{matrix\_5}
\end{tikzpicture}
\end{document}
